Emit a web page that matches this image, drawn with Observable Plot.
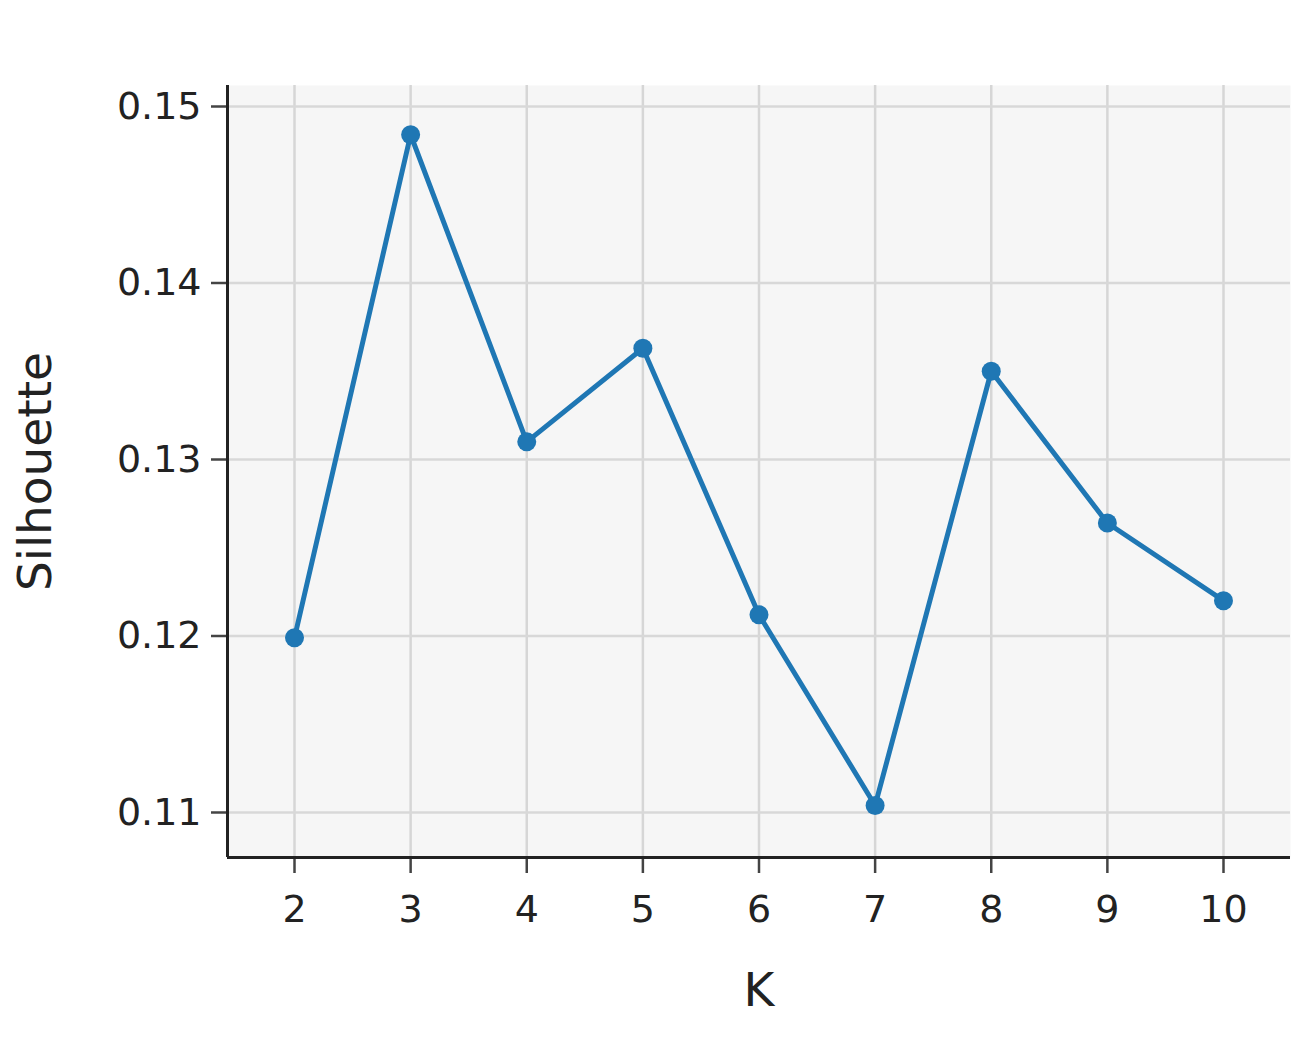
<!DOCTYPE html>
<html>
<head>
<meta charset="utf-8">
<script src="https://cdn.jsdelivr.net/npm/d3@7"></script>
<script src="https://cdn.jsdelivr.net/npm/@observablehq/plot@0.6"></script>
<style>
html,body{margin:0;padding:0;background:#fff;}
svg{display:block;}
</style>
</head>
<body>
<div id="chart"></div>
<script>
const ks = [2, 3, 4, 5, 6, 7, 8, 9, 10];
const silhouette = [0.1199, 0.1484, 0.1310, 0.1363, 0.1212, 0.1104, 0.1350, 0.1264, 0.1220];
const xTicks = [2, 3, 4, 5, 6, 7, 8, 9, 10];
const yTicks = [0.11, 0.12, 0.13, 0.14, 0.15];
const xLabel = "K";
const yLabel = "Silhouette";

const data = ks.map((k, i) => ({k, s: silhouette[i]}));
const xDomain = [1.423, 10.577];
const yDomain = [0.10745, 0.15119];
const font = "DejaVu Sans, Verdana, sans-serif";

const chart = Plot.plot({
  width: 1304,
  height: 1043,
  marginLeft: 227,
  marginRight: 14,
  marginTop: 85,
  marginBottom: 186,
  style: {fontFamily: font, fontSize: "38px", color: "#222", background: "#fff"},
  x: {domain: xDomain, label: null},
  y: {domain: yDomain, label: null},
  marks: [
    Plot.frame({fill: "#f6f6f6", stroke: null}),
    Plot.ruleX(xTicks, {stroke: "#d6d6d6", strokeWidth: 2.5}),
    Plot.ruleY(yTicks, {stroke: "#d8d8d8", strokeWidth: 2.5}),
    Plot.axisX(xTicks, {tickSize: 16, tickPadding: 22, stroke: "#444", strokeWidth: 2.5, fontSize: 38, fill: "#222", label: null, tickFormat: d => String(d)}),
    Plot.axisY(yTicks, {tickSize: 16, tickPadding: 10, stroke: "#444", strokeWidth: 2.5, fontSize: 38, fill: "#222", label: null, tickFormat: d => d.toFixed(2)}),
    Plot.ruleX([xDomain[0]], {stroke: "#222", strokeWidth: 3}),
    Plot.ruleY([yDomain[0]], {stroke: "#222", strokeWidth: 3}),
    Plot.line(data, {x: "k", y: "s", stroke: "#1f77b4", strokeWidth: 5}),
    Plot.dot(data, {x: "k", y: "s", fill: "#1f77b4", r: 9.5, stroke: null}),
    Plot.text([xLabel], {frameAnchor: "bottom", lineAnchor: "middle", dy: 133, fontSize: 47, fill: "#222"}),
    Plot.text([yLabel], {frameAnchor: "left", textAnchor: "middle", lineAnchor: "middle", dx: -192, rotate: -90, fontSize: 47, fill: "#222"})
  ]
});
document.getElementById("chart").appendChild(chart);
</script>
</body>
</html>
